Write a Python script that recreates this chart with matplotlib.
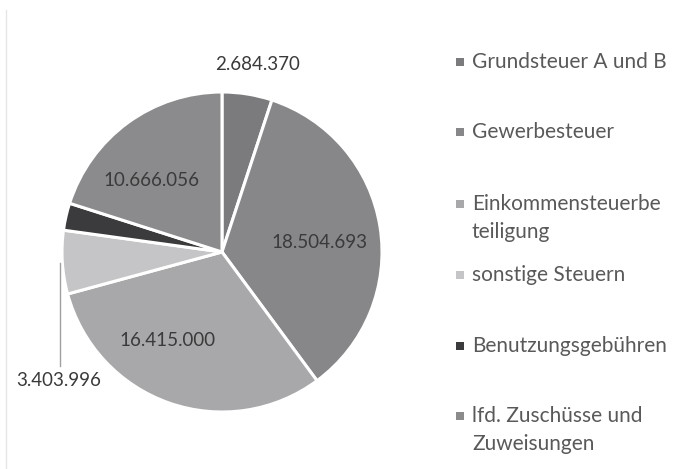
import numpy as np
import matplotlib.pyplot as plt
from matplotlib.patches import Rectangle
from matplotlib.lines import Line2D

categories = [
    "Grundsteuer A und B",
    "Gewerbesteuer",
    "Einkommensteuerbe\nteiligung",
    "sonstige Steuern",
    "Benutzungsgebühren",
    "lfd. Zuschüsse und\nZuweisungen",
]
values = [2684370, 18504693, 16415000, 3403996, 1460000, 10666056]
value_labels = ["2.684.370", "18.504.693", "16.415.000", "3.403.996", "", "10.666.056"]
colors = ["#7b7b7e", "#87878a", "#a8a8aa", "#c5c5c7", "#3b3b3d", "#8b8b8d"]

# label positions in pie coordinates (radius 1)
label_pos = [(0.22, 1.17), (0.61, 0.06), (-0.34, -0.55), (-1.02, -0.80), None, (-0.44, 0.45)]
# legend first-line centres in pixels from top
legend_y = [62, 132, 204, 275, 346, 416]
line_step = 28

W, H = 688, 469
plt.rcParams['font.family'] = ['Lato', 'DejaVu Sans']
fig = plt.figure(figsize=(W / 100, H / 100), dpi=100)

cx, cy, r = 222, 252, 160
ax = fig.add_axes([(cx - r) / W, (H - cy - r) / H, 2 * r / W, 2 * r / H])
ax.pie(values, colors=colors, startangle=90, counterclock=False,
       wedgeprops=dict(edgecolor="white", linewidth=2.2))
ax.set_xlim(-1, 1)
ax.set_ylim(-1, 1)
ax.axis("off")

for lab, pos in zip(value_labels, label_pos):
    if pos is None:
        continue
    ax.text(pos[0], pos[1], lab, ha="center", va="center",
            fontsize=13.5, color="#3a3a3a", clip_on=False)

# leader line for the small slice
ax.add_line(Line2D([-1.01, -1.01], [-0.07, -0.71], color="#a0a0a0",
                   linewidth=1, clip_on=False))

# chart border on the left
fig.add_artist(Line2D([5.5 / W, 5.5 / W], [0, 1 - 10 / H], color="#e6e6e6",
                      linewidth=1, transform=fig.transFigure))

# legend
for lab, col, y in zip(categories, colors, legend_y):
    yf = 1 - y / H
    fig.add_artist(Rectangle((456 / W, yf - 4 / H), 8 / W, 8 / H,
                             facecolor=col, edgecolor="none",
                             transform=fig.transFigure))
    for i, part in enumerate(lab.split("\n")):
        fig.text(472 / W, 1 - (y + i * line_step) / H, part, ha="left",
                 va="center", fontsize=15, color="#595959")

fig.savefig("out.png", dpi=100)
